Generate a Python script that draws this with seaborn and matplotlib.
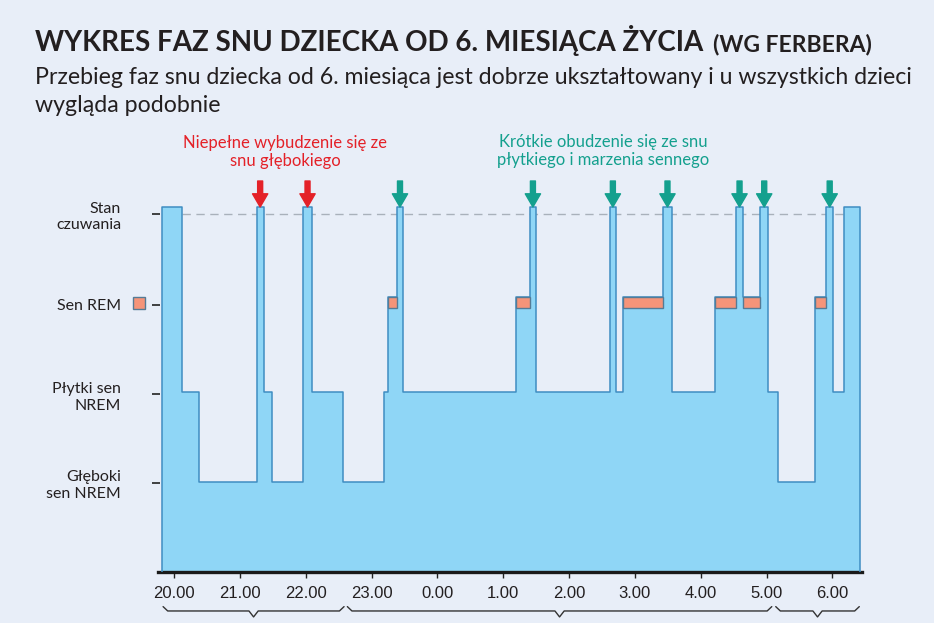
import numpy as np
import pandas as pd
import seaborn as sns
import matplotlib.pyplot as plt
from matplotlib.transforms import blended_transform_factory

# czas w godzinach liczony od 20.00 (24 = północ); faza obowiązuje od danego momentu
czasy = [19.81, 20.11, 20.38, 21.25, 21.36, 21.49, 21.96, 22.09, 22.57, 23.18,
         23.25, 23.38, 23.48, 25.20, 25.40, 25.50, 26.62, 26.71, 26.82, 27.43,
         27.56, 28.21, 28.53, 28.65, 28.90, 29.03, 29.18, 29.73, 29.91, 30.01,
         30.18, 30.42]
fazy = ['W', 'L', 'D', 'W', 'L', 'D', 'W', 'L', 'D', 'L',
        'R', 'W', 'L', 'R', 'W', 'L', 'W', 'L', 'R', 'W',
        'L', 'R', 'W', 'R', 'W', 'L', 'D', 'R', 'W', 'L',
        'W']
poziomy = {'W': 4.07, 'R': 3.07, 'L': 2.0, 'D': 1.0}

godziny = [20, 21, 22, 23, 24, 25, 26, 27, 28, 29, 30]
etykiety_godzin = ['20.00', '21.00', '22.00', '23.00', '0.00', '1.00',
                   '2.00', '3.00', '4.00', '5.00', '6.00']
etykiety_faz = ['Głęboki\nsen NREM', 'Płytki sen\nNREM', 'Sen REM', 'Stan\nczuwania']
cykle = [(19.83, 22.58), (22.63, 29.08), (29.14, 30.41)]

TLO = '#e8eef8'
NIEBIESKI = '#8fd6f6'
KRAWEDZ = '#3f8dc2'
REM = '#f59479'
REM_KRAWEDZ = '#557b96'
CZERWONY = '#e42128'
ZIELONY = '#14a08e'
TEKST = '#231f20'

sns.set_theme(style='white', rc={'figure.facecolor': TLO, 'axes.facecolor': TLO})
plt.rcParams['font.family'] = ['Lato', 'DejaVu Sans']


def fx(px):
    return px / 934


def fy(py):
    return 1 - py / 623


# kontur hipnogramu
xs, ys = [czasy[0]], [0.0]
for i, f in enumerate(fazy):
    xs += [czasy[i], czasy[i + 1]]
    ys += [poziomy[f], poziomy[f]]
xs.append(czasy[-1])
ys.append(0.0)
kontur = pd.DataFrame({'czas': xs, 'poziom': ys})

fig = plt.figure(figsize=(9.34, 6.23), dpi=100)
ax = fig.add_axes([fx(160), 51.3 / 623, 702 / 934, 396.7 / 623])

ax.hlines(3.99, czasy[1], czasy[-2], colors='#a9b1bb', linestyles=(0, (6, 4)), lw=1, zorder=1)
ax.fill(kontur['czas'], kontur['poziom'], color=NIEBIESKI, lw=0, zorder=2)
sns.lineplot(data=kontur, x='czas', y='poziom', sort=False, estimator=None,
             color=KRAWEDZ, lw=1.1, ax=ax, zorder=3)

for i, f in enumerate(fazy):
    if f == 'R':
        ax.bar(czasy[i], 0.13, width=czasy[i + 1] - czasy[i], bottom=2.94, align='edge',
               color=REM, edgecolor=REM_KRAWEDZ, lw=1, zorder=4)

# strzałki nad krótkimi wybudzeniami
for i, f in enumerate(fazy):
    if f == 'W' and 0 < i < len(fazy) - 1:
        srodek = (czasy[i] + czasy[i + 1]) / 2
        kolor = CZERWONY if fazy[i - 1] == 'D' else ZIELONY
        ax.annotate('', xy=(srodek, 4.07), xytext=(srodek, 4.36),
                    arrowprops=dict(width=3.6, headwidth=11, headlength=9.5, color=kolor, shrink=0),
                    annotation_clip=False)

ax.set_xlim(19.783, 30.451)
ax.set_ylim(0, 4.427)
ax.set_xlabel('')
ax.set_ylabel('')
ax.set_xticks(godziny)
ax.set_xticklabels(etykiety_godzin, fontsize=12, color=TEKST, family=['Liberation Sans', 'DejaVu Sans'])
ax.set_yticks([0.99, 1.98, 2.98, 3.99])
ax.set_yticklabels(etykiety_faz, fontsize=11.5, color=TEKST, linespacing=1.25)
ax.tick_params(axis='x', bottom=True, direction='out', length=4, width=1, color='#222222', pad=6)
ax.tick_params(axis='y', left=True, direction='out', length=5.5, width=1.2, color='#222222', pad=22.5)
for s in ['top', 'right', 'left']:
    ax.spines[s].set_visible(False)
ax.spines['bottom'].set_color('#1a1a1a')
ax.spines['bottom'].set_linewidth(2.4)
ax.spines['bottom'].set_bounds(19.75, 30.451)

# znacznik snu REM przy osi
tr_y = blended_transform_factory(ax.transAxes, ax.transData)
ax.plot([-0.0305], [3.0], marker='s', ms=9, mfc=REM, mec=REM_KRAWEDZ, mew=1,
        transform=tr_y, clip_on=False)

# klamry cykli snu
tr_x = blended_transform_factory(ax.transData, ax.transAxes)
for x0, x1 in cykle:
    xc = (x0 + x1) / 2
    d = 0.07
    px = [x0, x0 + d, xc - d, xc, xc + d, x1 - d, x1]
    py = [-0.088, -0.099, -0.099, -0.114, -0.099, -0.099, -0.088]
    ax.plot(px, py, color='#333333', lw=1, transform=tr_x, clip_on=False)

# tytuł i podtytuł
t = fig.text(fx(35), fy(51), 'WYKRES FAZ SNU DZIECKA OD 6. MIESIĄCA ŻYCIA',
             fontsize=20, fontweight='bold', color=TEKST, va='baseline')
bb = t.get_window_extent(fig.canvas.get_renderer())
fig.text(bb.x1 / 934 + fx(10), fy(51), '(WG FERBERA)', fontsize=16.5, fontweight='bold',
         color=TEKST, va='baseline')
fig.text(fx(35), fy(84), 'Przebieg faz snu dziecka od 6. miesiąca jest dobrze ukształtowany i u wszystkich dzieci',
         fontsize=16.7, color=TEKST, va='baseline')
fig.text(fx(35), fy(112), 'wygląda podobnie', fontsize=16.7, color=TEKST, va='baseline')

fig.text(fx(285), fy(152), 'Niepełne wybudzenie się ze\nsnu głębokiego', fontsize=12,
         color=CZERWONY, ha='center', va='center', linespacing=1.2)
fig.text(fx(603), fy(151), 'Krótkie obudzenie się ze snu\npłytkiego i marzenia sennego', fontsize=12,
         color=ZIELONY, ha='center', va='center', linespacing=1.2)

fig.savefig('out.png', dpi=100, facecolor=TLO)
